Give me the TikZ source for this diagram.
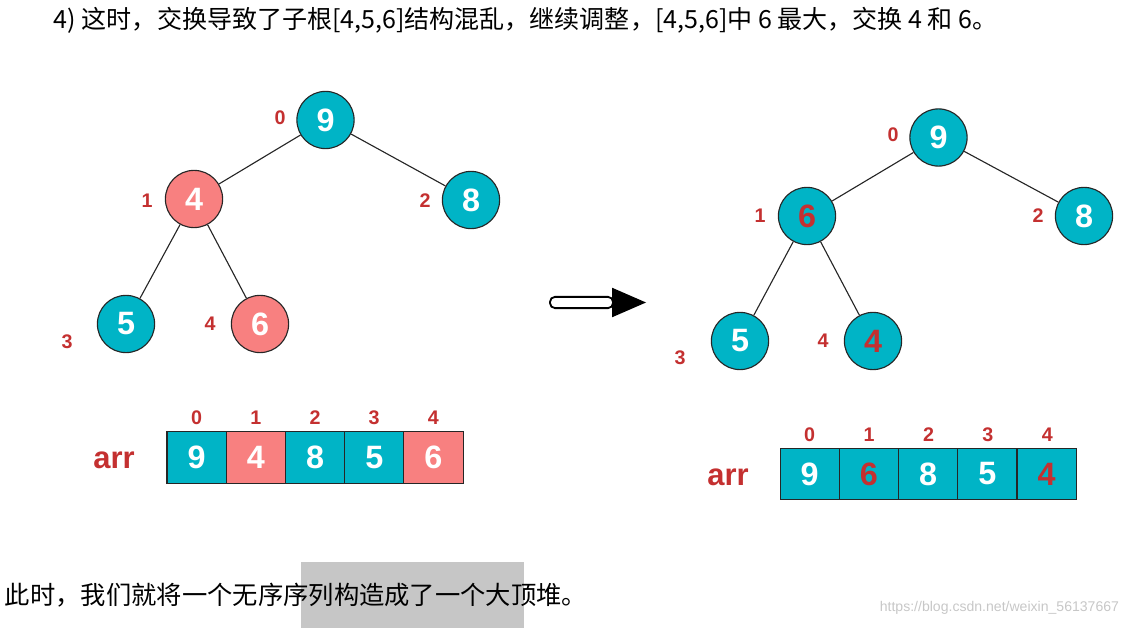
\documentclass[tikz,border=0pt]{standalone}
\usepackage{fontspec}
\setmainfont{Liberation Sans}
\newfontfamily\cjk{Noto Sans CJK SC}
\usetikzlibrary{positioning}
\usepackage{xcolor}
\definecolor{heapteal}{RGB}{0,180,198}
\definecolor{heappink}{RGB}{248,128,128}
\definecolor{idxred}{RGB}{196,48,48}
\definecolor{selgray}{RGB}{198,198,198}

\tikzset{
  heapnode/.style={circle, draw=black!85, line width=0.8pt, minimum size=1.43cm,
    inner sep=0pt, text=white, font=\fontsize{23}{23}\selectfont\bfseries},
  tealnode/.style={heapnode, fill=heapteal},
  pinknode/.style={heapnode, fill=heappink},
  idxlabel/.style={text=idxred, font=\fontsize{14}{14}\selectfont\bfseries},
  cellbox/.style={draw=black!85, line width=0.8pt, minimum width=1.48cm,
    minimum height=1.29cm, inner sep=0pt, outer sep=0pt, text=white,
    font=\fontsize{23}{23}\selectfont\bfseries},
  tealcell/.style={cellbox, fill=heapteal},
  pinkcell/.style={cellbox, fill=heappink},
  edge/.style={draw=black!85, line width=0.8pt},
  arrlabel/.style={text=idxred, font=\fontsize{22}{22}\selectfont\bfseries}
}

\begin{document}
\begin{tikzpicture}[x=0.025cm, y=-0.025cm]
  \useasboundingbox (0,0) rectangle (1130,628);

  % heading
  \node[anchor=west, font=\cjk\fontsize{17.8}{17.8}\selectfont] (title) at (49,20)
    {4) 这时，交换导致了子根[4,5,6]结构混乱，继续调整，[4,5,6]中 6 最大，交换 4 和 6。};

  % left tree
  \node[tealnode] (l0) at (325.5,120) {9};
  \node[pinknode] (l1) at (194,199) {4};
  \node[tealnode] (l2) at (471,200) {8};
  \node[tealnode] (l3) at (126,324) {5};
  \node[pinknode] (l4) at (260,324) {6};
  \draw[edge] (l0) -- (l1);
  \draw[edge] (l0) -- (l2);
  \draw[edge] (l1) -- (l3);
  \draw[edge] (l1) -- (l4);
  \node[idxlabel] (li0) at (280,118) {0};
  \node[idxlabel] (li1) at (147,201) {1};
  \node[idxlabel] (li2) at (425,201) {2};
  \node[idxlabel] (li3) at (67,342) {3};
  \node[idxlabel] (li4) at (210,324) {4};

  % left array
  \node[arrlabel] (larr) at (114,460) {arr};
  \node[tealcell] (la0) at (196.6,457.5) {9};
  \node[pinkcell, right=0pt of la0] (la1) {4};
  \node[tealcell, right=0pt of la1] (la2) {8};
  \node[tealcell, right=0pt of la2] (la3) {5};
  \node[pinkcell, right=0pt of la3] (la4) {6};
  \node[idxlabel] at (196.6,418) {0};
  \node[idxlabel] at (255.8,418) {1};
  \node[idxlabel] at (315,418) {2};
  \node[idxlabel] at (374.2,418) {3};
  \node[idxlabel] at (433.4,418) {4};

  % transition arrow
  \coordinate (arrowtail) at (550,302.5);
  \coordinate (arrowtip) at (646,302.5);
  \draw[fill=white, line width=1.3pt, rounded corners=3.5pt]
    ([yshift=1.4mm]arrowtail) rectangle ([xshift=-33*0.025cm, yshift=-1.4mm]arrowtip);
  \fill[black] ([xshift=-34*0.025cm, yshift=0.37cm]arrowtip) -- (arrowtip)
    -- ([xshift=-34*0.025cm, yshift=-0.37cm]arrowtip) -- cycle;

  % right tree
  \node[tealnode] (r0) at (938.5,137.5) {9};
  \node[tealnode, text=idxred] (r1) at (807,216) {6};
  \node[tealnode] (r2) at (1084,216) {8};
  \node[tealnode] (r3) at (740,341) {5};
  \node[tealnode, text=idxred] (r4) at (873,341) {4};
  \draw[edge] (r0) -- (r1);
  \draw[edge] (r0) -- (r2);
  \draw[edge] (r1) -- (r3);
  \draw[edge] (r1) -- (r4);
  \node[idxlabel] (ri0) at (893,135) {0};
  \node[idxlabel] (ri1) at (760,216) {1};
  \node[idxlabel] (ri2) at (1038,216) {2};
  \node[idxlabel] (ri3) at (680,358) {3};
  \node[idxlabel] (ri4) at (823,341) {4};

  % right array
  \node[arrlabel] (rarr) at (728,477) {arr};
  \node[tealcell] (ra0) at (809.7,474) {9};
  \node[tealcell, text=idxred, right=0pt of ra0] (ra1) {6};
  \node[tealcell, right=0pt of ra1] (ra2) {8};
  \node[tealcell, right=0pt of ra2] (ra3) {5};
  \node[tealcell, text=idxred, right=0pt of ra3] (ra4) {4};
  \node[idxlabel] at (809.7,435) {0};
  \node[idxlabel] at (869.1,435) {1};
  \node[idxlabel] at (928.5,435) {2};
  \node[idxlabel] at (987.9,435) {3};
  \node[idxlabel] at (1047.3,435) {4};

  % closing line
  \fill[selgray] (301,562) rectangle (524,628);
  \node[anchor=west, font=\cjk\fontsize{18}{18}\selectfont] (summary) at (0,595)
    {此时，我们就将一个无序序列构造成了一个大顶堆。};
  \node[anchor=east, text=black!22, font=\fontsize{10}{10}\selectfont] (mark) at (1124,608)
    {https://blog.csdn.net/weixin\_56137667};
\end{tikzpicture}
\end{document}
